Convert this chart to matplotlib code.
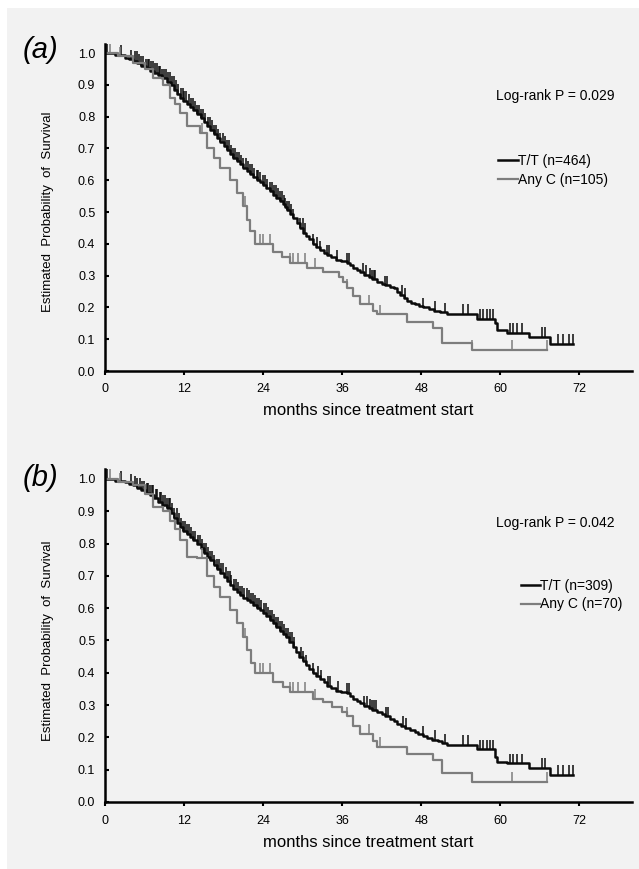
import numpy as np
import matplotlib.pyplot as plt
from matplotlib.patches import Rectangle

plt.rcParams['font.family'] = ['Liberation Sans', 'DejaVu Sans']

# ---- panel (a) ----
a_tt_time = [0, 1.5, 3, 3.7, 4.3, 4.9, 5.5, 6.2, 6.8, 7.4, 8, 8.7, 9.4, 10, 10.5, 11, 11.4,
             11.9, 12.4, 12.9, 13.4, 14, 14.5, 15, 15.5, 16, 16.5, 17, 17.5, 18, 18.5, 19, 19.5,
             20, 20.5, 21, 21.6, 22, 22.5, 23, 23.5, 24, 24.5, 25, 25.5, 26, 26.5, 27, 27.3, 27.7,
             28.1, 28.6, 29.1, 29.6, 30.1, 30.5, 31, 31.6, 32.1, 32.6, 33.2, 33.7, 34.3, 35, 35.8,
             36.7, 37.2, 37.7, 38.2, 38.7, 39.3, 40, 40.6, 41.3, 42, 42.5, 43.2, 43.8, 44.3, 44.8,
             45.4, 45.9, 46.5, 47, 47.6, 48.3, 49.2, 50, 50.9, 51.9, 56.5, 59.2, 59.5, 61, 64.3,
             67.6]
a_tt_surv = [1.0, 0.995, 0.985, 0.98, 0.975, 0.968, 0.96, 0.952, 0.945, 0.938, 0.93, 0.92, 0.91,
             0.898, 0.885, 0.872, 0.86, 0.85, 0.84, 0.83, 0.82, 0.808, 0.795, 0.782, 0.77, 0.758,
             0.745, 0.732, 0.72, 0.708, 0.695, 0.682, 0.67, 0.66, 0.65, 0.64, 0.63, 0.62, 0.61,
             0.602, 0.595, 0.585, 0.575, 0.565, 0.555, 0.545, 0.535, 0.525, 0.515, 0.505, 0.495,
             0.48, 0.465, 0.45, 0.435, 0.425, 0.415, 0.40, 0.39, 0.38, 0.372, 0.365, 0.357, 0.35,
             0.345, 0.34, 0.332, 0.325, 0.318, 0.31, 0.302, 0.295, 0.288, 0.28, 0.275, 0.27,
             0.265, 0.26, 0.25, 0.24, 0.23, 0.22, 0.215, 0.21, 0.205, 0.20, 0.195, 0.19, 0.185,
             0.18, 0.165, 0.15, 0.13, 0.12, 0.107, 0.085]
a_tt_end = 71.1
a_tt_cens = [0.3, 2.4, 3.9, 4.5, 4.8, 5.2, 5.5, 5.8, 6.2, 6.5, 6.7, 7.0, 7.3, 7.6, 7.9, 8.2,
             8.4, 8.7, 9.0, 9.3, 9.6, 9.8, 10.1, 10.4, 10.8, 11.1, 11.5, 11.8, 12.0, 12.3, 12.7,
             13.0, 13.3, 13.6, 14.0, 14.3, 14.6, 14.9, 15.2, 15.6, 15.9, 16.2, 16.6, 16.9, 17.2,
             17.5, 17.9, 18.2, 18.5, 18.8, 19.1, 19.5, 19.8, 20.1, 20.4, 20.7, 21.0, 21.4, 21.7,
             22.0, 22.3, 22.6, 23.0, 23.3, 23.6, 24.0, 24.3, 24.6, 25.0, 25.3, 25.6, 25.9, 26.2,
             26.5, 26.8, 27.1, 27.4, 27.7, 28.0, 28.3, 28.6, 29.6, 30.0, 30.4, 31.6, 32.2, 32.7,
             33.7, 34.0, 35.2, 36.8, 37.0, 39.2, 39.6, 40.2, 40.6, 40.8, 41.0, 42.5, 42.8, 45.1,
             45.6, 48.3, 50.1, 51.6, 54.4, 55.1, 57.0, 57.4, 58.0, 58.4, 58.9, 61.5, 62.0, 62.6,
             63.3, 66.4, 66.8, 68.8, 69.6, 70.4, 71.0]

a_c_time = [0, 2, 4.3, 6, 7.3, 8.8, 9.9, 10.6, 11.4, 12.4, 14.4, 15.5, 16.5, 17.5, 19, 20, 21,
            21.6, 22, 22.8, 25.5, 26.8, 28.1, 30.7, 33.1, 35.5, 36.2, 36.7, 37.7, 38.7, 40.7,
            41.3, 45.9, 49.8, 51.2, 55.7]
a_c_surv = [1.0, 0.99, 0.97, 0.95, 0.92, 0.90, 0.86, 0.84, 0.81, 0.77, 0.75, 0.70, 0.67, 0.64,
            0.60, 0.56, 0.52, 0.475, 0.44, 0.40, 0.375, 0.36, 0.34, 0.325, 0.31, 0.295, 0.28,
            0.26, 0.235, 0.21, 0.19, 0.178, 0.155, 0.135, 0.088, 0.066]
a_c_end = 67.1
a_c_cens = [0.8, 2.3, 14.8, 21.3, 23.5, 24.0, 25.1, 28.1, 28.6, 29.3, 30.4, 31.9, 36.8, 40.0,
            41.8, 55.7, 61.8, 67.1]

# ---- panel (b) ----
b_tt_time = [0, 1.5, 3, 3.7, 4.3, 4.9, 5.5, 6.2, 6.8, 7.4, 8, 8.7, 9.4, 10, 10.5, 11, 11.4,
             11.9, 12.4, 12.9, 13.4, 14, 14.5, 15, 15.5, 16, 16.5, 17, 17.5, 18, 18.5, 19, 19.5,
             20, 20.5, 21, 21.6, 22, 22.5, 23, 23.5, 24, 24.5, 25, 25.5, 26, 26.5, 27, 27.5, 28,
             28.5, 29, 29.5, 30, 30.5, 31, 31.6, 32.1, 32.6, 33.2, 33.7, 34.3, 35, 35.8, 36.7,
             37.2, 37.7, 38.2, 38.7, 39.3, 40, 40.6, 41.3, 42, 42.5, 43.2, 43.8, 44.4, 45, 45.6,
             46.3, 47, 47.5, 48.2, 48.9, 49.7, 50.5, 51.2, 51.9, 56.5, 59.2, 59.5, 61, 64.3, 67.6]
b_tt_surv = [1.0, 0.995, 0.99, 0.985, 0.98, 0.972, 0.965, 0.958, 0.95, 0.94, 0.93, 0.92, 0.91,
             0.895, 0.88, 0.865, 0.85, 0.84, 0.83, 0.82, 0.81, 0.798, 0.785, 0.772, 0.76, 0.748,
             0.735, 0.722, 0.71, 0.698, 0.685, 0.672, 0.66, 0.65, 0.64, 0.632, 0.625, 0.618,
             0.61, 0.602, 0.595, 0.585, 0.575, 0.564, 0.553, 0.542, 0.53, 0.52, 0.51, 0.495,
             0.48, 0.465, 0.45, 0.438, 0.425, 0.412, 0.40, 0.39, 0.38, 0.37, 0.36, 0.352, 0.345,
             0.341, 0.337, 0.328, 0.32, 0.313, 0.306, 0.298, 0.29, 0.285, 0.28, 0.272, 0.265,
             0.258, 0.25, 0.242, 0.235, 0.229, 0.223, 0.216, 0.21, 0.204, 0.198, 0.193, 0.188,
             0.182, 0.176, 0.163, 0.14, 0.125, 0.12, 0.105, 0.084]
b_tt_end = 71.1
b_tt_cens = [0.3, 2.4, 3.9, 4.6, 4.9, 5.3, 5.6, 5.9, 6.3, 6.6, 6.8, 7.1, 7.3, 7.7, 7.9, 8.3,
             8.5, 8.8, 9.1, 9.4, 9.7, 9.9, 10.2, 10.5, 10.9, 11.2, 11.5, 11.9, 12.1, 12.4, 12.8,
             13.1, 13.4, 13.7, 14.1, 14.4, 14.7, 15.0, 15.3, 15.7, 16.0, 16.3, 16.6, 17.0, 17.3,
             17.6, 17.9, 18.3, 18.6, 18.9, 19.2, 19.6, 19.9, 20.2, 20.5, 20.8, 21.1, 21.5, 21.8,
             22.1, 22.4, 22.7, 23.0, 23.4, 23.7, 24.1, 24.4, 24.7, 25.0, 25.4, 25.7, 26.0, 26.3,
             26.6, 26.9, 27.2, 27.5, 27.8, 28.1, 28.4, 28.7, 29.7, 30.1, 30.5, 31.6, 32.3, 32.8,
             33.8, 34.1, 35.3, 36.8, 37.1, 39.3, 39.7, 40.3, 40.6, 40.8, 41.1, 42.6, 42.9, 45.2,
             45.7, 48.3, 50.1, 51.6, 54.4, 55.1, 57.0, 57.4, 58.0, 58.4, 58.9, 61.5, 62.0, 62.6,
             63.3, 66.4, 66.8, 68.8, 69.6, 70.4, 71.0]

b_c_time = [0, 2, 4.3, 6, 7.3, 8.8, 9.9, 10.6, 11.4, 12.4, 14, 15.5, 16.5, 17.5, 19, 20, 21,
            21.6, 22.2, 22.8, 25.5, 27, 28.1, 31.5, 33.1, 34.5, 36, 36.7, 37.7, 38.7, 40.7,
            41.3, 45.9, 49.8, 51.2, 55.7]
b_c_surv = [1.0, 0.99, 0.98, 0.955, 0.913, 0.90, 0.87, 0.845, 0.81, 0.76, 0.755, 0.70, 0.665,
            0.635, 0.595, 0.555, 0.51, 0.47, 0.43, 0.40, 0.37, 0.355, 0.34, 0.32, 0.31, 0.295,
            0.28, 0.265, 0.235, 0.21, 0.19, 0.17, 0.15, 0.13, 0.09, 0.063]
b_c_end = 67.1
b_c_cens = [0.8, 2.3, 14.8, 21.3, 23.5, 24.0, 25.1, 28.1, 28.6, 29.3, 30.4, 31.9, 36.8, 40.0,
            41.8, 55.7, 61.8, 67.1]

panels = [
    dict(tag='(a)', p='Log-rank P = 0.029', n_tt=464, n_c=105,
         tt=(a_tt_time, a_tt_surv, a_tt_end, a_tt_cens),
         c=(a_c_time, a_c_surv, a_c_end, a_c_cens)),
    dict(tag='(b)', p='Log-rank P = 0.042', n_tt=309, n_c=70,
         tt=(b_tt_time, b_tt_surv, b_tt_end, b_tt_cens),
         c=(b_c_time, b_c_surv, b_c_end, b_c_cens)),
]

BG = '#f2f2f2'
fig = plt.figure(figsize=(6.39, 8.69), dpi=100, facecolor='white')
fig.patches.append(Rectangle((7 / 639, 0), 1, 1 - 8 / 869, transform=fig.transFigure,
                             facecolor=BG, edgecolor='none', zorder=-10))

ax_rects = [[105 / 639, (869 - 371) / 869, 527 / 639, 327.5 / 869],
            [105 / 639, (869 - 802) / 869, 527 / 639, 332.7 / 869]]
legend_pos = [(0.746, 0.612), (0.789, 0.622)]
tag_y = [1 - 50 / 869, 1 - 478 / 869]


def draw_km(ax, data, color, label, lw):
    t, s, end, cens = data
    t = np.asarray(t)
    s = np.asarray(s)
    ax.step(np.append(t, end), np.append(s, s[-1]), where='post', color=color, lw=lw,
            label=label)
    cens = np.asarray(cens)
    idx = np.searchsorted(t, cens, side='right') - 1
    ax.vlines(cens, s[idx], s[idx] + 0.03, color=color, lw=1.1)


for i, pnl in enumerate(panels):
    ax = fig.add_axes(ax_rects[i])
    ax.set_facecolor(BG)
    draw_km(ax, pnl['tt'], '#0a0a0a', 'T/T (n=%d)' % pnl['n_tt'], 1.8)
    draw_km(ax, pnl['c'], '#7d7d7d', 'Any C (n=%d)' % pnl['n_c'], 1.6)

    ax.set_xlim(0, 80)
    ax.set_ylim(0, 1.03)
    ax.set_xticks(range(0, 73, 12))
    ax.set_yticks(np.arange(0, 1.01, 0.1))
    ax.set_yticklabels(['%.1f' % v for v in np.arange(0, 1.01, 0.1)])
    for side in ['top', 'right']:
        ax.spines[side].set_visible(False)
    for side in ['left', 'bottom']:
        ax.spines[side].set_linewidth(1.8)
    ax.tick_params(axis='y', direction='in', length=3, width=1.5, labelsize=9, pad=7)
    ax.tick_params(axis='x', direction='out', length=3, width=1.5, labelsize=9, pad=6)

    ax.set_xlabel('months since treatment start', fontsize=12, va='top')
    ax.xaxis.set_label_coords(0.5, -0.098)
    ax.set_ylabel('Estimated  Probability  of  Survival', fontsize=9.5)
    ax.yaxis.set_label_coords(-0.097, 0.485)

    ax.text(68.3, 0.865, pnl['p'], fontsize=10, ha='center', va='center')
    ax.legend(loc='center left', bbox_to_anchor=legend_pos[i], frameon=False, fontsize=10,
              handlelength=1.4, handletextpad=0.0, borderpad=0, borderaxespad=0,
              labelspacing=0.35)
    fig.text(41 / 639, tag_y[i], pnl['tag'], fontsize=21, style='italic', ha='center',
             va='center')

fig.savefig('out.png', dpi=100, facecolor=fig.get_facecolor())
